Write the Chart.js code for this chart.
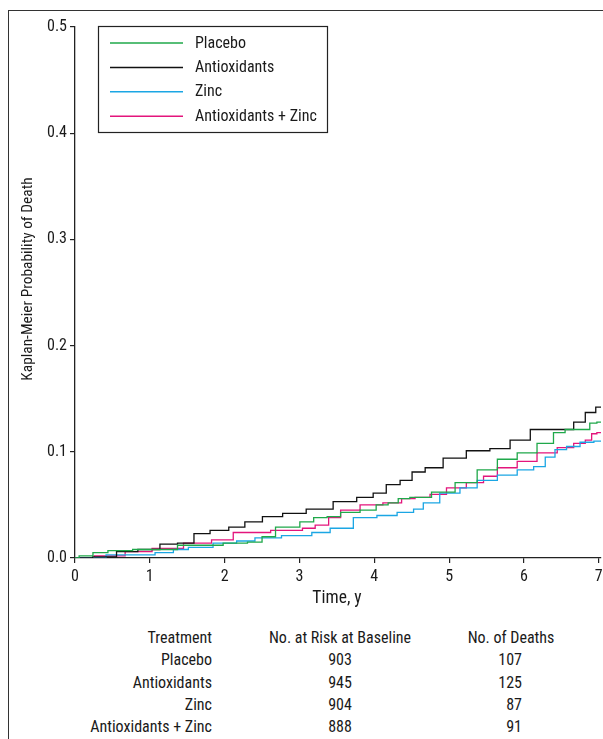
<!DOCTYPE html>
<html>
<head>
<meta charset="utf-8">
<script src="https://cdn.jsdelivr.net/npm/chart.js@4.4.1/dist/chart.umd.min.js"></script>
<style>
  html, body { margin: 0; padding: 0; background: #fff; }
  body { width: 603px; height: 739px; position: relative; overflow: hidden;
         font-family: "Roboto Condensed", "Liberation Sans Narrow", sans-serif; color: #1a1a1a; }
  #frame { position: absolute; left: 8px; top: 10px; width: 700px; height: 800px;
           border-left: 1.6px solid #333; border-top: 1.6px solid #333; box-sizing: border-box; }
  #wrap { position: absolute; left: 0; top: 0; width: 603px; height: 620px; }
  .cell { position: absolute; font-size: 16px; line-height: 18px; white-space: nowrap; }
</style>
</head>
<body>
<div id="frame"></div>
<div id="wrap"><canvas id="c" width="603" height="620"></canvas></div>
<div id="table"></div>
<script>
// ---- data ----
const seriesNames = ["Placebo", "Antioxidants", "Zinc", "Antioxidants + Zinc"];
const seriesColors = ["#1fa84a", "#111111", "#1ba6e4", "#e3157c"];

const placeboT = [0, 0.11, 0.37, 0.51, 1.03, 1.71, 2.25, 2.36, 2.64, 2.72, 2.91, 3.10, 3.28, 3.46, 3.64, 3.98, 4.07, 4.30, 4.34, 4.61, 4.92, 5.24, 5.51, 5.78, 6.04, 6.31, 6.48, 6.62, 6.84, 6.92, 7.03];
const placeboP = [0, 0.002, 0.005, 0.007, 0.008, 0.012, 0.014, 0.015, 0.020, 0.029, 0.029, 0.034, 0.038, 0.039, 0.043, 0.045, 0.050, 0.052, 0.056, 0.057, 0.062, 0.071, 0.083, 0.093, 0.099, 0.108, 0.118, 0.121, 0.121, 0.127, 0.128];

const antioxT = [0, 0.47, 0.64, 1.04, 1.23, 1.51, 1.67, 1.94, 2.17, 2.37, 2.64, 2.91, 3.27, 3.63, 3.90, 4.07, 4.25, 4.44, 4.57, 4.79, 5.05, 5.41, 5.68, 5.95, 6.22, 6.58, 6.75, 6.89, 7.03];
const antioxP = [0, 0.001, 0.006, 0.008, 0.013, 0.014, 0.023, 0.026, 0.029, 0.034, 0.039, 0.042, 0.046, 0.053, 0.057, 0.061, 0.069, 0.073, 0.081, 0.085, 0.094, 0.101, 0.103, 0.111, 0.121, 0.121, 0.128, 0.137, 0.142];

const zincT = [0, 0.83, 1.31, 1.32, 1.71, 1.98, 2.34, 2.47, 3.05, 3.28, 3.54, 3.90, 4.17, 4.44, 4.61, 4.70, 5.05, 5.24, 5.51, 5.78, 6.04, 6.22, 6.35, 6.48, 6.66, 6.84, 7.03];
const zincP = [0, 0.003, 0.005, 0.008, 0.010, 0.014, 0.016, 0.019, 0.021, 0.024, 0.028, 0.038, 0.040, 0.043, 0.046, 0.052, 0.061, 0.066, 0.073, 0.078, 0.083, 0.086, 0.095, 0.102, 0.105, 0.109, 0.110];

const azT = [0, 0.51, 0.83, 1.23, 1.67, 1.98, 2.25, 2.98, 3.10, 3.32, 3.46, 3.64, 3.98, 4.25, 4.48, 4.61, 4.88, 5.05, 5.41, 5.51, 5.78, 6.04, 6.31, 6.58, 6.75, 6.89, 6.92, 7.03];
const azP = [0, 0.002, 0.006, 0.009, 0.014, 0.017, 0.024, 0.026, 0.028, 0.031, 0.038, 0.045, 0.050, 0.052, 0.056, 0.057, 0.060, 0.066, 0.071, 0.077, 0.085, 0.091, 0.099, 0.104, 0.108, 0.111, 0.117, 0.118];

const xTicks = [0, 1, 2, 3, 4, 5, 6, 7];
const yTicks = [0.0, 0.1, 0.2, 0.3, 0.4, 0.5];

const tableHeader = ["Treatment", "No. at Risk at Baseline", "No. of Deaths"];
const atRisk = [903, 945, 904, 888];
const deaths = [107, 125, 87, 91];

const xTitle = "Time, y";
const yTitle = "Kaplan-Meier Probability of Death";

// ---- build ----
const FONT = '"Roboto Condensed", "Liberation Sans Narrow", sans-serif';
const times = [placeboT, antioxT, zincT, azT];
const vals = [placeboP, antioxP, zincP, azP];
const datasets = seriesNames.map((n, i) => ({
  label: n,
  data: times[i].map((t, j) => ({ x: t, y: vals[i][j] })),
  borderColor: seriesColors[i],
  borderWidth: 1.3,
  pointRadius: 0,
  stepped: 'middle',
  fill: false
}));

const boxLegend = {
  id: 'boxLegend',
  afterDraw(chart) {
    const ctx = chart.ctx;
    ctx.save();
    ctx.strokeStyle = '#222';
    ctx.lineWidth = 1.2;
    ctx.strokeRect(98.5, 26.5, 229, 106);
    ctx.font = '16px ' + FONT;
    ctx.textBaseline = 'middle';
    ctx.fillStyle = '#1a1a1a';
    chart.data.datasets.forEach((d, i) => {
      const y = 43 + i * 24.4;
      ctx.strokeStyle = d.borderColor;
      ctx.lineWidth = 1.5;
      ctx.beginPath(); ctx.moveTo(110, y); ctx.lineTo(183, y); ctx.stroke();
      ctx.fillText(d.label, 195, y + 0.5);
    });
    // axis titles
    ctx.textAlign = 'center';
    ctx.font = '17.5px ' + FONT;
    ctx.fillText(xTitle, 337, 599);
    ctx.font = '15.4px ' + FONT;
    ctx.translate(28, 279);
    ctx.rotate(-Math.PI / 2);
    ctx.fillText(yTitle, 0, 0);
    ctx.restore();
  }
};

new Chart(document.getElementById('c'), {
  type: 'line',
  data: { datasets },
  options: {
    responsive: false,
    animation: false,
    layout: { padding: { left: 0, top: 27, right: 2, bottom: 0 } },
    plugins: { legend: { display: false }, tooltip: { enabled: false } },
    scales: {
      x: {
        type: 'linear', min: 0, max: 7.03,
        afterBuildTicks: s => { s.ticks = xTicks.map(v => ({ value: v })); },
        afterFit: s => { s.height = 62; s.paddingRight = 0; s.paddingLeft = 0; },
        ticks: { color: '#1a1a1a', font: { family: FONT, size: 16 }, padding: 4, maxRotation: 0,
                 callback: v => String(v) },
        grid: { display: true, drawOnChartArea: false, drawTicks: true, tickLength: 5, color: '#222', lineWidth: 1.2 },
        border: { display: true, color: '#222', width: 1.3 }
      },
      y: {
        type: 'linear', min: 0, max: 0.5,
        afterBuildTicks: s => { s.ticks = yTicks.map(v => ({ value: v })); },
        afterFit: s => { s.width = 75; s.paddingTop = 0; s.paddingBottom = 0; },
        ticks: { color: '#1a1a1a', font: { family: FONT, size: 16 }, padding: 3,
                 callback: v => Number(v).toFixed(1) },
        grid: { display: true, drawOnChartArea: false, drawTicks: true, tickLength: 5, color: '#222', lineWidth: 1.2 },
        border: { display: true, color: '#222', width: 1.3 }
      }
    }
  },
  plugins: [boxLegend]
});

// ---- table ----
const tbl = document.getElementById('table');
function cell(text, x, y, align) {
  const d = document.createElement('div');
  d.className = 'cell';
  d.textContent = text;
  d.style.top = (y - 9) + 'px';
  if (align === 'right') { d.style.right = (603 - x) + 'px'; }
  else if (align === 'center') { d.style.left = (x - 150) + 'px'; d.style.width = '300px'; d.style.textAlign = 'center'; }
  else { d.style.left = x + 'px'; }
  tbl.appendChild(d);
}
const rowY = [638, 660, 683, 705, 727];
cell(tableHeader[0], 212, rowY[0], 'right');
cell(tableHeader[1], 340, rowY[0], 'center');
cell(tableHeader[2], 511, rowY[0], 'center');
seriesNames.forEach((n, i) => {
  cell(n, 212, rowY[i + 1], 'right');
  cell(String(atRisk[i]), 340, rowY[i + 1], 'center');
  cell(String(deaths[i]), 522, rowY[i + 1], 'right');
});
</script>
</body>
</html>
